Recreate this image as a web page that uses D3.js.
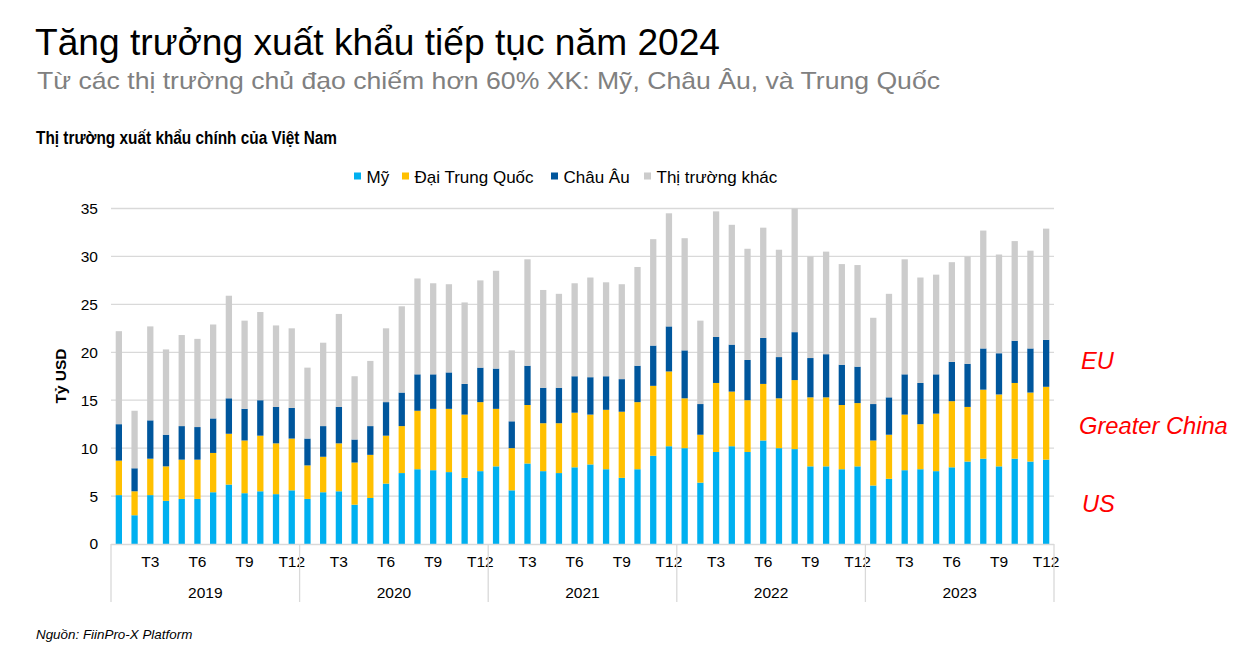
<!DOCTYPE html>
<html><head><meta charset="utf-8">
<script src="https://cdn.jsdelivr.net/npm/d3@7"></script>
<style>body{margin:0;background:#fff;} svg{display:block;font-family:"Liberation Sans",Arial,sans-serif;}</style>
</head><body>
<svg id="c" width="1249" height="663"></svg>
<script>
const years = ["2019","2020","2021","2022","2023"];
const months = ["T1","T2","T3","T4","T5","T6","T7","T8","T9","T10","T11","T12"];
const monthTicks = ["T3","T6","T9","T12"];
const seriesNames = ["Mỹ","Đại Trung Quốc","Châu Âu","Thị trường khác"];
const seriesColors = ["#00b0f0","#ffc000","#00569c","#cccccc"];
const yTicks = [0,5,10,15,20,25,30,35];
const usValues = [5.1,3.0,5.1,4.5,4.7,4.7,5.4,6.2,5.3,5.5,5.2,5.6,
4.7,5.4,5.5,4.1,4.8,6.3,7.4,7.8,7.7,7.5,6.9,7.6,
8.1,5.6,8.4,7.6,7.4,8.0,8.3,7.8,6.9,7.8,9.2,10.2,
10.0,6.4,9.6,10.2,9.6,10.8,10.0,9.9,8.1,8.1,7.8,8.1,
6.1,6.8,7.7,7.8,7.6,8.0,8.6,8.9,8.1,8.9,8.6,8.8];
const chinaValues = [3.6,2.5,3.8,3.6,4.1,4.1,4.1,5.3,5.5,5.8,5.3,5.4,
3.5,3.7,5.0,4.4,4.5,5.0,4.9,6.1,6.4,6.6,6.6,7.2,
6.0,4.4,6.1,5.0,5.2,5.7,5.2,6.2,6.9,7.0,7.3,7.8,
5.2,5.0,7.2,5.7,5.4,5.9,5.2,7.2,7.2,7.2,6.7,6.6,
4.7,4.6,5.8,4.7,6.0,6.9,5.7,7.2,7.5,7.9,7.2,7.6];
const euValues = [3.8,2.4,4.0,3.3,3.5,3.4,3.6,3.7,3.3,3.7,3.8,3.2,
2.8,3.2,3.8,2.4,3.0,3.5,3.5,3.8,3.6,3.8,3.2,3.6,
4.2,2.8,4.1,3.7,3.7,3.8,3.9,3.5,3.4,3.8,4.2,4.7,
5.0,3.2,4.8,4.9,4.2,4.8,4.3,5.0,4.1,4.5,4.2,3.8,
3.8,3.9,4.2,4.3,4.1,4.1,4.5,4.3,4.3,4.4,4.6,4.9];
const otherValues = [9.7,6.0,9.8,8.9,9.5,9.2,9.8,10.7,9.2,9.2,8.5,8.3,
7.4,8.7,9.7,6.6,6.8,7.7,9.0,10.0,9.5,9.2,8.5,9.1,
10.2,7.4,11.1,10.2,9.8,9.7,10.4,9.8,9.9,10.3,11.1,11.8,
11.7,8.7,13.1,12.5,11.6,11.5,11.2,12.9,10.6,10.7,10.5,10.6,
9.0,10.8,12.0,11.0,10.4,10.4,11.2,12.3,10.3,10.4,10.2,11.6];

const categories = [];
years.forEach(y => months.forEach(m => categories.push(y + "-" + m)));
const table = categories.map((c, i) => ({
  cat: c, year: c.split("-")[0], month: c.split("-")[1],
  "Mỹ": usValues[i], "Đại Trung Quốc": chinaValues[i], "Châu Âu": euValues[i], "Thị trường khác": otherValues[i]
}));

const svg = d3.select("#c");
const L = 111, R = 1054, T = 208.5, B = 544;
const x = d3.scaleBand().domain(categories).range([L, R]).paddingInner(0.6).paddingOuter(0.3);
const y = d3.scaleLinear().domain([0, 35]).range([B, T]);
const color = d3.scaleOrdinal().domain(seriesNames).range(seriesColors);
const FF = "Liberation Sans, Arial, sans-serif";

// titles
svg.append("text").attr("x", 35).attr("y", 55).attr("font-size", 36).attr("fill", "#000")
  .attr("textLength", 685).attr("lengthAdjust", "spacingAndGlyphs").text("Tăng trưởng xuất khẩu tiếp tục năm 2024");
svg.append("text").attr("x", 37).attr("y", 88.5).attr("font-size", 24).attr("fill", "#808080")
  .attr("textLength", 903).attr("lengthAdjust", "spacingAndGlyphs").text("Từ các thị trường chủ đạo chiếm hơn 60% XK: Mỹ, Châu Âu, và Trung Quốc");
svg.append("text").attr("x", 36).attr("y", 144).attr("font-size", 17.5).attr("font-weight", "bold").attr("fill", "#000")
  .attr("textLength", 301).attr("lengthAdjust", "spacingAndGlyphs").text("Thị trường xuất khẩu chính của Việt Nam");

// gridlines
svg.append("g").selectAll("line").data(yTicks.filter(d => d > 0)).join("line")
  .attr("x1", L).attr("x2", R).attr("y1", d => y(d)).attr("y2", d => y(d))
  .attr("stroke", "#d9d9d9").attr("stroke-width", 1.3);

// y axis
const yAxis = d3.axisLeft(y).tickValues(yTicks).tickSize(0).tickPadding(13);
const yg = svg.append("g").attr("transform", `translate(${L},0)`).call(yAxis);
yg.select(".domain").remove();
yg.selectAll("text").attr("font-size", 15.5).attr("fill", "#000").attr("font-family", FF);

svg.append("text").attr("transform", `translate(66,${376}) rotate(-90)`).attr("text-anchor", "middle")
  .attr("font-size", 15.5).attr("font-weight", "bold").text("Tỷ USD");

// bars
const stack = d3.stack().keys(seriesNames)(table);
svg.append("g").selectAll("g").data(stack).join("g").attr("fill", d => color(d.key))
  .selectAll("rect").data(d => d).join("rect")
  .attr("x", d => x(d.data.cat)).attr("width", x.bandwidth())
  .attr("y", d => y(d[1])).attr("height", d => y(d[0]) - y(d[1]));

// x axis baseline
svg.append("line").attr("x1", L).attr("x2", R).attr("y1", B + 0.5).attr("y2", B + 0.5).attr("stroke", "#d9d9d9").attr("stroke-width", 1.3);

// month tick labels
const xAxis = d3.axisBottom(x).tickValues(categories.filter(c => monthTicks.includes(c.split("-")[1])))
  .tickFormat(c => c.split("-")[1]).tickSize(0).tickPadding(12);
const xg = svg.append("g").attr("transform", `translate(0,${B})`).call(xAxis);
xg.select(".domain").remove();
xg.selectAll("text").attr("font-size", 15.5).attr("fill", "#000").attr("font-family", FF);

// year separators and labels
const step = x.step();
const yearBounds = years.map(yr => {
  const s = x(yr + "-T1") - (step - x.bandwidth()) / 2;
  const e = x(yr + "-T12") + x.bandwidth() + (step - x.bandwidth()) / 2;
  return { yr, s, e };
});
const seps = [yearBounds[0].s].concat(yearBounds.map(d => d.e));
svg.append("g").selectAll("line").data(seps).join("line")
  .attr("x1", d => d).attr("x2", d => d).attr("y1", B).attr("y2", 602)
  .attr("stroke", "#d9d9d9").attr("stroke-width", 1.3);
svg.append("g").selectAll("text").data(yearBounds).join("text")
  .attr("x", d => (d.s + d.e) / 2).attr("y", 598).attr("text-anchor", "middle")
  .attr("font-size", 15.5).attr("fill", "#000").text(d => d.yr);

// legend
const legendItems = [
  { name: seriesNames[0], x: 354 },
  { name: seriesNames[1], x: 402 },
  { name: seriesNames[2], x: 551 },
  { name: seriesNames[3], x: 644 }
];
const lg = svg.append("g");
const li = lg.selectAll("g").data(legendItems).join("g").attr("transform", d => `translate(${d.x},172)`);
li.append("rect").attr("width", 7).attr("height", 7).attr("y", 0.5).attr("fill", d => color(d.name));
li.append("text").attr("x", 12.5).attr("y", 10.8).attr("font-size", 17).attr("fill", "#000").text(d => d.name);

// annotations
const ann = [["EU", 1081, 369], ["Greater China", 1079, 434], ["US", 1082, 512]];
svg.append("g").selectAll("text").data(ann).join("text")
  .attr("x", d => d[1]).attr("y", d => d[2]).attr("font-size", 23.7).attr("font-style", "italic").attr("fill", "#ff0000").text(d => d[0]);

// source
svg.append("text").attr("x", 36).attr("y", 639).attr("font-size", 13.4).attr("font-style", "italic").attr("fill", "#000").text("Nguồn: FiinPro-X Platform");
</script>
</body></html>
